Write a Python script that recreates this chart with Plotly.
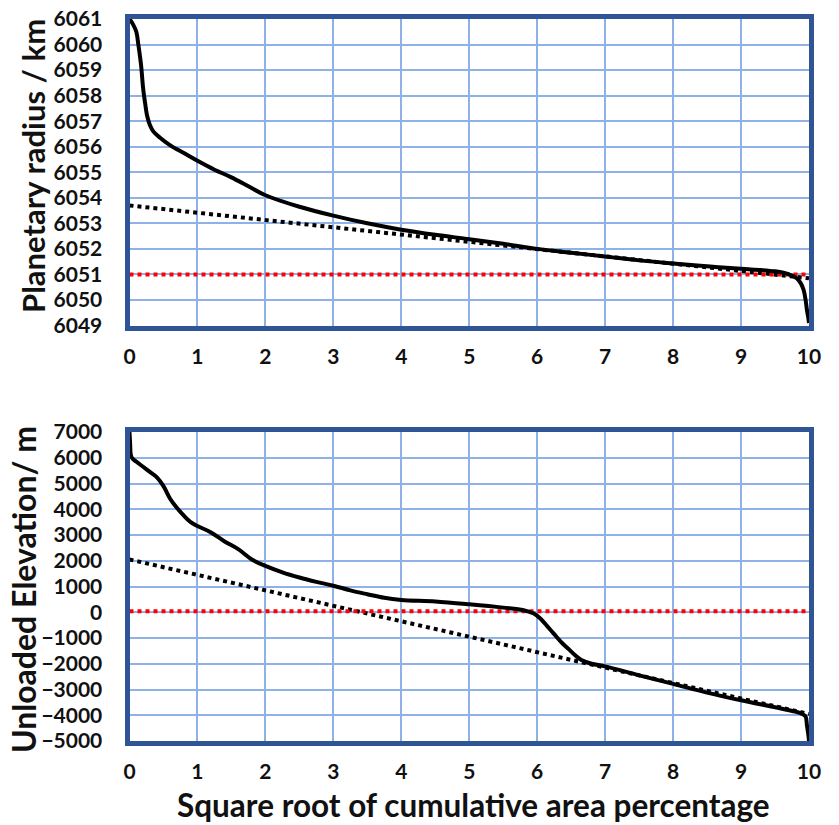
import plotly.graph_objects as go

# ---- Data ----
# Top panel: planetary radius (km) vs sqrt cumulative area percentage
radius_x = [0.0, 0.05, 0.1, 0.13, 0.17, 0.2, 0.23, 0.26, 0.3, 0.35, 0.45, 0.6, 0.8, 1.0, 1.25, 1.5,
            1.75, 2.0, 2.5, 3.0, 3.5, 4.0, 4.5, 5.0, 5.5, 6.0, 6.5, 7.0, 7.5, 8.0, 8.5, 9.0,
            9.3, 9.5, 9.65, 9.75, 9.82, 9.88, 9.92, 9.95, 9.97, 9.99, 10.0]
radius_y = [6061.0, 6060.8, 6060.5, 6060.0, 6059.2, 6058.3, 6057.7, 6057.2, 6056.85, 6056.6, 6056.35,
            6056.05, 6055.75, 6055.45, 6055.1, 6054.8, 6054.45, 6054.1, 6053.65, 6053.3, 6053.0,
            6052.75, 6052.55, 6052.38, 6052.2, 6052.0, 6051.85, 6051.7, 6051.55, 6051.43, 6051.32,
            6051.22, 6051.17, 6051.12, 6051.05, 6050.95, 6050.85, 6050.65, 6050.4, 6050.0, 6049.6,
            6049.3, 6049.1]
radius_fit_x = [0.0, 10.0]
radius_fit_y = [6053.7, 6050.85]
radius_ref_x = [0.0, 10.0]
radius_ref_y = [6051.0, 6051.0]

# Bottom panel: unloaded elevation (m)
elev_x = [0.0, 0.01, 0.02, 0.05, 0.1, 0.2, 0.3, 0.4, 0.5, 0.6, 0.7, 0.8, 0.9, 1.0, 1.2, 1.4, 1.6,
          1.8, 2.0, 2.25, 2.5, 2.75, 3.0, 3.25, 3.5, 3.75, 4.0, 4.5, 5.0, 5.5, 5.8, 5.95, 6.05,
          6.15, 6.25, 6.35, 6.45, 6.55, 6.65, 6.8, 7.0, 7.5, 8.0, 8.5, 9.0, 9.5, 9.8, 9.9, 9.95,
          9.97, 9.99, 10.0]
elev_y = [7000, 6500, 6100, 5950, 5850, 5650, 5450, 5250, 4900, 4400, 4050, 3750, 3500, 3350, 3100,
          2750, 2450, 2050, 1800, 1550, 1350, 1180, 1030, 850, 700, 560, 480, 420, 310, 180, 80,
          -50, -250, -550, -850, -1150, -1400, -1650, -1850, -2000, -2100, -2450, -2780, -3120,
          -3420, -3690, -3860, -3950, -4050, -4400, -4750, -5000]
elev_fit_x = [0.0, 10.0]
elev_fit_y = [2050, -3950]
elev_ref_x = [0.0, 10.0]
elev_ref_y = [40, 40]

x_ticks = list(range(0, 11))
top_ticks = list(range(6049, 6062))
bot_ticks = list(range(-5000, 7001, 1000))

FRAME = "#2F5597"
GRID = "#8FB2E6"
FONT = "Lato"

fig = go.Figure()

fig.add_trace(go.Scatter(x=radius_fit_x, y=radius_fit_y, mode="lines",
                         line=dict(color="black", width=4, dash="4px,4px"), xaxis="x", yaxis="y"))
fig.add_trace(go.Scatter(x=radius_ref_x, y=radius_ref_y, mode="lines",
                         line=dict(color="#FF0000", width=4, dash="4px,4px"), xaxis="x", yaxis="y"))
fig.add_trace(go.Scatter(x=radius_x, y=radius_y, mode="lines", line_shape="spline",
                         line=dict(color="black", width=4), xaxis="x", yaxis="y"))

fig.add_trace(go.Scatter(x=elev_fit_x, y=elev_fit_y, mode="lines",
                         line=dict(color="black", width=4, dash="4px,4px"), xaxis="x2", yaxis="y2"))
fig.add_trace(go.Scatter(x=elev_ref_x, y=elev_ref_y, mode="lines",
                         line=dict(color="#FF0000", width=4, dash="4px,4px"), xaxis="x2", yaxis="y2"))
fig.add_trace(go.Scatter(x=elev_x, y=elev_y, mode="lines", line_shape="spline",
                         line=dict(color="black", width=4), xaxis="x2", yaxis="y2"))

W, H = 839, 825


def px_x(p):
    return p / W


def px_y(p):
    return 1 - p / H


xdom = [px_x(129.5), px_x(809)]
top_dom = [px_y(325.5), px_y(19)]
bot_dom = [px_y(741), px_y(432)]

tickfont = dict(family=FONT, size=21, color="#111111", weight="bold")
common_x = dict(range=[0, 10], tickvals=x_ticks, showgrid=True, gridcolor=GRID, gridwidth=1.5,
                showline=True, linecolor=FRAME, linewidth=5, mirror=True, zeroline=False,
                ticks="", tickfont=tickfont, ticklabelstandoff=8, domain=xdom, automargin=False,
                ticklabeloverflow="allow")
common_y = dict(showgrid=True, gridcolor=GRID, gridwidth=1.5, showline=True, linecolor=FRAME,
                linewidth=5, mirror=True, zeroline=False, ticks="", tickfont=tickfont,
                ticklabelstandoff=18, automargin=False, ticklabeloverflow="allow")

fig.update_layout(
    width=W, height=H,
    margin=dict(l=0, r=0, t=0, b=0),
    paper_bgcolor="white", plot_bgcolor="white",
    showlegend=False,
    xaxis=dict(common_x, anchor="y"),
    yaxis=dict(common_y, range=[6049, 6061], tickvals=top_ticks, domain=top_dom, anchor="x"),
    xaxis2=dict(common_x, anchor="y2"),
    yaxis2=dict(common_y, range=[-5000, 7000], tickvals=bot_ticks, domain=bot_dom, anchor="x2"),
    annotations=[
        dict(text="Planetary radius / km", x=px_x(33), y=px_y(166), xref="paper", yref="paper",
             textangle=-90, showarrow=False, xanchor="center", yanchor="middle",
             font=dict(family=FONT, size=31, color="#111111", weight="bold")),
        dict(text="Unloaded Elevation/ m", x=px_x(23), y=px_y(590), xref="paper", yref="paper",
             textangle=-90, showarrow=False, xanchor="center", yanchor="middle",
             font=dict(family=FONT, size=32, color="#111111", weight="bold")),
        dict(text="Square root of cumulative area percentage", x=px_x(473), y=px_y(805),
             xref="paper", yref="paper", showarrow=False, xanchor="center", yanchor="middle",
             font=dict(family=FONT, size=31.5, color="#111111", weight="bold")),
    ],
)

# remove the default 8px page margin so the figure fills the window exactly
fig.write_html("out.html", config={"displayModeBar": False},
               post_script="document.body.style.margin='0';")
